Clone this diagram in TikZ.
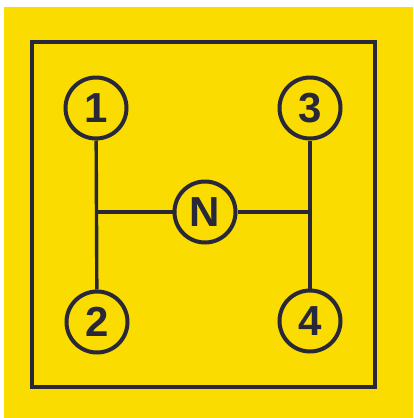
\documentclass[tikz,border=0pt]{standalone}
\usepackage{fontspec}
\setmainfont{Liberation Sans}
\usetikzlibrary{positioning,calc}
\definecolor{plate}{RGB}{250,220,0}
\definecolor{ink}{RGB}{40,40,56}

\begin{document}
\begin{tikzpicture}[x=1pt,y=-1pt, gear/.style={circle, draw=ink, line width=4pt, minimum size=61pt, inner sep=0pt, font=\fontsize{42}{42}\selectfont\bfseries, text=ink}, rail/.style={draw=ink, line width=3.4pt}]
\useasboundingbox (0,0) rectangle (413,418);
\fill[white] (0,0) rectangle (413,418);
\fill[plate] (4,7) rectangle (413,418);
\draw[ink, line width=4pt] (32,42) rectangle (375,387);
\node[gear] (g1) at (96,108) {1};
\node[gear] (g3) at (310,108) {3};
\node[gear] (n) at (205,212) {N};
\node[gear] (g2) at (97,322) {2};
\node[gear] (g4) at (310,321) {4};
\coordinate (jl) at (g1 |- n);
\coordinate (jr) at (g3 |- n);
\draw[rail] (g1) -- (g2);
\draw[rail] (g3) -- (g4);
\draw[rail] (jl) -- (n);
\draw[rail] (n) -- (jr);
\end{tikzpicture}
\end{document}
